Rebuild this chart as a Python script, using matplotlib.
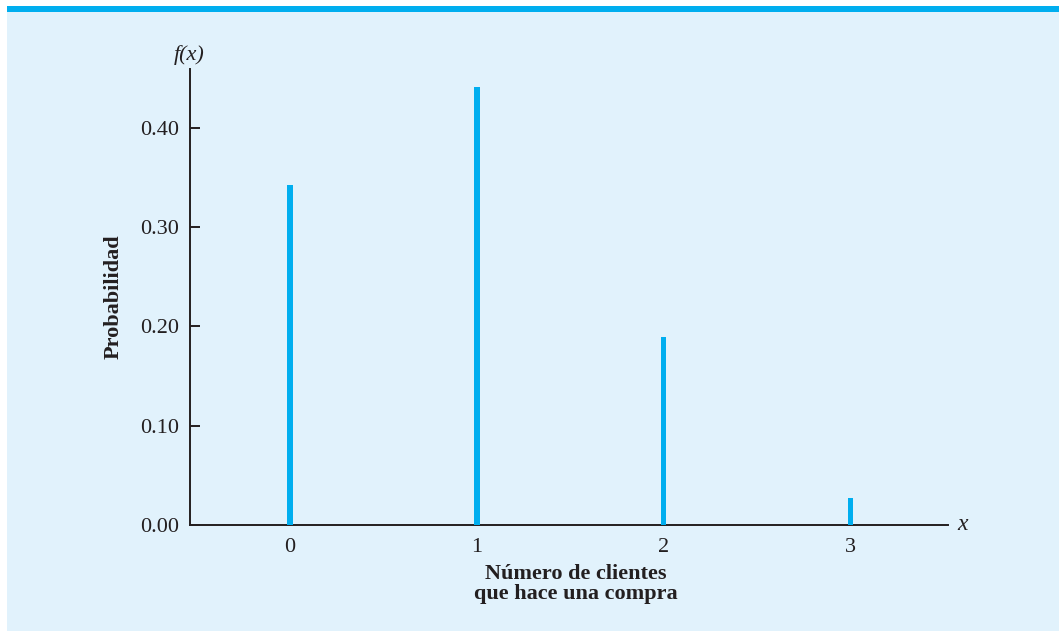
import matplotlib
matplotlib.use("Agg")
import matplotlib.pyplot as plt
from matplotlib.patches import Rectangle

x_values = [0, 1, 2, 3]
probabilities = [0.343, 0.441, 0.189, 0.027]
y_ticks = [0.00, 0.10, 0.20, 0.30, 0.40]
y_tick_labels = ["0.00", "0.10", "0.20", "0.30", "0.40"]
x_tick_labels = ["0", "1", "2", "3"]

W, H = 1059, 631
fig = plt.figure(figsize=(W / 100, H / 100), dpi=100)
fig.patch.set_facecolor("white")
bg = "#E1F2FC"
# panel background
fig.patches.append(Rectangle((7 / W, 0), 1 - 7 / W, (H - 6) / H, transform=fig.transFigure,
                             facecolor=bg, edgecolor="none", zorder=-10))
# top cyan rule
fig.patches.append(Rectangle((7 / W, (H - 12) / H), 1 - 7 / W, 6 / H, transform=fig.transFigure,
                             facecolor="#00AEEF", edgecolor="none", zorder=-9))

serif = ["Liberation Serif", "DejaVu Serif"]
plt.rcParams["font.family"] = serif

ax = fig.add_axes([190 / W, (H - 525) / H, (948 - 190) / W, (525 - 69) / H])
ax.set_zorder(5)
ax.set_facecolor("none")
ax.bar(x_values, probabilities, width=0.028, color="#00AEEF", zorder=3)

ax.set_xlim(-0.535, 3.52)
ax.set_ylim(0, 0.4594)
ax.set_yticks(y_ticks)
ax.set_yticklabels(y_tick_labels)
ax.set_xticks(x_values)
ax.set_xticklabels(x_tick_labels)

for s in ["top", "right"]:
    ax.spines[s].set_visible(False)
for s in ["left", "bottom"]:
    ax.spines[s].set_color("#231F20")
    ax.spines[s].set_linewidth(1.4)

ax.tick_params(axis="y", direction="in", length=7, width=1.4, color="#231F20",
               labelsize=16, pad=8, labelcolor="#231F20")
ax.tick_params(axis="x", length=0, labelsize=16, pad=9, labelcolor="#231F20")

ax.set_ylabel("Probabilidad", fontsize=16, fontweight="bold", color="#231F20", labelpad=12)
ax.set_xlabel("Número de clientes\nque hace una compra", fontsize=16, fontweight="bold",
              color="#231F20", linespacing=0.98)
ax.xaxis.set_label_coords((576 - 190) / 758, -(564 - 525) / 456)

fig.text(189 / W, (H - 55) / H, "f(x)", fontsize=16, ha="center", va="center",
         color="#231F20", style="italic")
fig.text(963 / W, (H - 524) / H, "x", fontsize=17, ha="center", va="center",
         color="#231F20", style="italic")

fig.savefig("out.png", dpi=100, facecolor=fig.get_facecolor())
